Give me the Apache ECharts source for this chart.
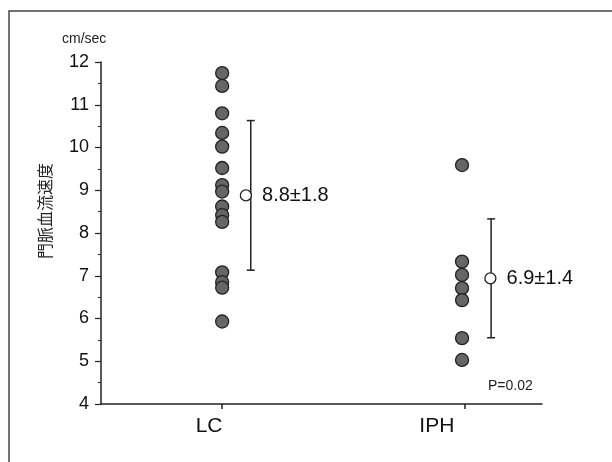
<!DOCTYPE html>
<html>
<head>
<meta charset="utf-8">
<script src="https://cdn.jsdelivr.net/npm/echarts@6/dist/echarts.min.js"></script>
<style>
  html, body { margin: 0; padding: 0; background: #fff; }
  #chart { width: 612px; height: 462px; }
</style>
</head>
<body>
<div id="chart"></div>
<script>
// 群とその位置
const groups = ['LC', 'IPH']
const groupX = [1, 1.99]
const groupLabelX = [0.946, 1.886] // 軸ラベルの位置（図では少し左にずれている）
// 個々の測定値 (cm/sec)
const lcValues = [11.74, 11.44, 10.8, 10.34, 10.02, 9.52, 9.12, 8.97, 8.62, 8.42, 8.26, 7.08, 6.85, 6.72, 5.93]
const iphValues = [9.59, 7.33, 7.02, 6.71, 6.43, 5.54, 5.03]
// 平均 ± SD（図に描かれた位置）
const meanX = [1.098, 2.107]
const barX = [1.118, 2.11]
const meanValues = [8.88, 6.94]
const sdValues = [1.75, 1.39]
const meanTexts = ['8.8±1.8', '6.9±1.4']
const yTicks = [4, 5, 6, 7, 8, 9, 10, 11, 12]

const narrow = '"Liberation Sans Narrow", "Liberation Sans", Arial, sans-serif'
const sans = '"Liberation Sans", Arial, sans-serif'

const chart = echarts.init(document.getElementById('chart'))

const dots = []
lcValues.forEach(v => dots.push([groupX[0], v]))
iphValues.forEach(v => dots.push([groupX[1], v]))

const bars = meanValues.map((m, i) => [barX[i], m - sdValues[i], m + sdValues[i]])
const means = meanValues.map((m, i) => ({ value: [meanX[i], m], text: meanTexts[i] }))

chart.setOption({
  animation: false,
  grid: { left: 101, right: 70, top: 62, bottom: 58 },
  graphic: [
    { // 外枠
      type: 'rect',
      shape: { x: 9, y: 11, width: 620, height: 470 },
      style: { fill: 'none', stroke: '#444', lineWidth: 1.5 },
      silent: true
    },
    {
      type: 'text',
      left: 62, top: 32,
      style: { text: 'cm/sec', font: '14px ' + sans, fill: '#222' }
    },
    {
      type: 'text',
      x: 45, y: 211,
      rotation: Math.PI / 2,
      style: {
        text: '門脈血流速度',
        font: '16px "Noto Sans CJK JP", "Noto Sans CJK SC", sans-serif',
        fill: '#222', align: 'center', verticalAlign: 'middle'
      }
    },
    {
      type: 'text',
      left: 488, top: 379,
      style: { text: 'P=0.02', font: '14px ' + sans, fill: '#222' }
    }
  ],
  xAxis: {
    type: 'value',
    min: 0.5,
    max: 2.32,
    splitLine: { show: false },
    axisLine: { lineStyle: { color: '#222', width: 1.5 } },
    axisTick: { customValues: groupX.map(x => Math.round(x)), length: 5, lineStyle: { color: '#222', width: 1.5 } },
    axisLabel: {
      customValues: groupLabelX,
      formatter: v => groups[groupLabelX.indexOf(v)] || '',
      fontSize: 21,
      fontFamily: sans,
      color: '#111',
      margin: 12
    }
  },
  yAxis: {
    type: 'value',
    min: yTicks[0],
    max: yTicks[yTicks.length - 1],
    interval: 1,
    splitLine: { show: false },
    axisLine: { show: true, lineStyle: { color: '#222', width: 1.5 } },
    axisTick: { show: true, length: 6, lineStyle: { color: '#222', width: 1.2 } },
    minorTick: { show: true, splitNumber: 2, length: 3, lineStyle: { color: '#222', width: 1 } },
    axisLabel: { fontSize: 18, fontFamily: narrow, color: '#111', margin: 12 }
  },
  series: [
    {
      type: 'scatter',
      data: dots,
      symbolSize: 13,
      itemStyle: { color: '#666', borderColor: '#222', borderWidth: 1.3, opacity: 1 },
      z: 3
    },
    {
      type: 'custom',
      data: bars,
      renderItem: function (params, api) {
        const top = api.coord([api.value(0), api.value(2)])
        const bottom = api.coord([api.value(0), api.value(1)])
        const cap = 4
        const style = { stroke: '#222', lineWidth: 1.5 }
        return {
          type: 'group',
          children: [
            { type: 'line', shape: { x1: top[0], y1: top[1], x2: bottom[0], y2: bottom[1] }, style: style },
            { type: 'line', shape: { x1: top[0] - cap, y1: top[1], x2: top[0] + cap, y2: top[1] }, style: style },
            { type: 'line', shape: { x1: bottom[0] - cap, y1: bottom[1], x2: bottom[0] + cap, y2: bottom[1] }, style: style }
          ]
        }
      },
      z: 4
    },
    {
      type: 'scatter',
      data: means,
      symbolSize: 11,
      itemStyle: { color: '#fff', borderColor: '#222', borderWidth: 1.3, opacity: 1 },
      label: {
        show: true,
        position: 'right',
        distance: 10,
        formatter: p => p.data.text,
        fontSize: 20,
        fontFamily: sans,
        color: '#111'
      },
      z: 5
    }
  ]
})
</script>
</body>
</html>
